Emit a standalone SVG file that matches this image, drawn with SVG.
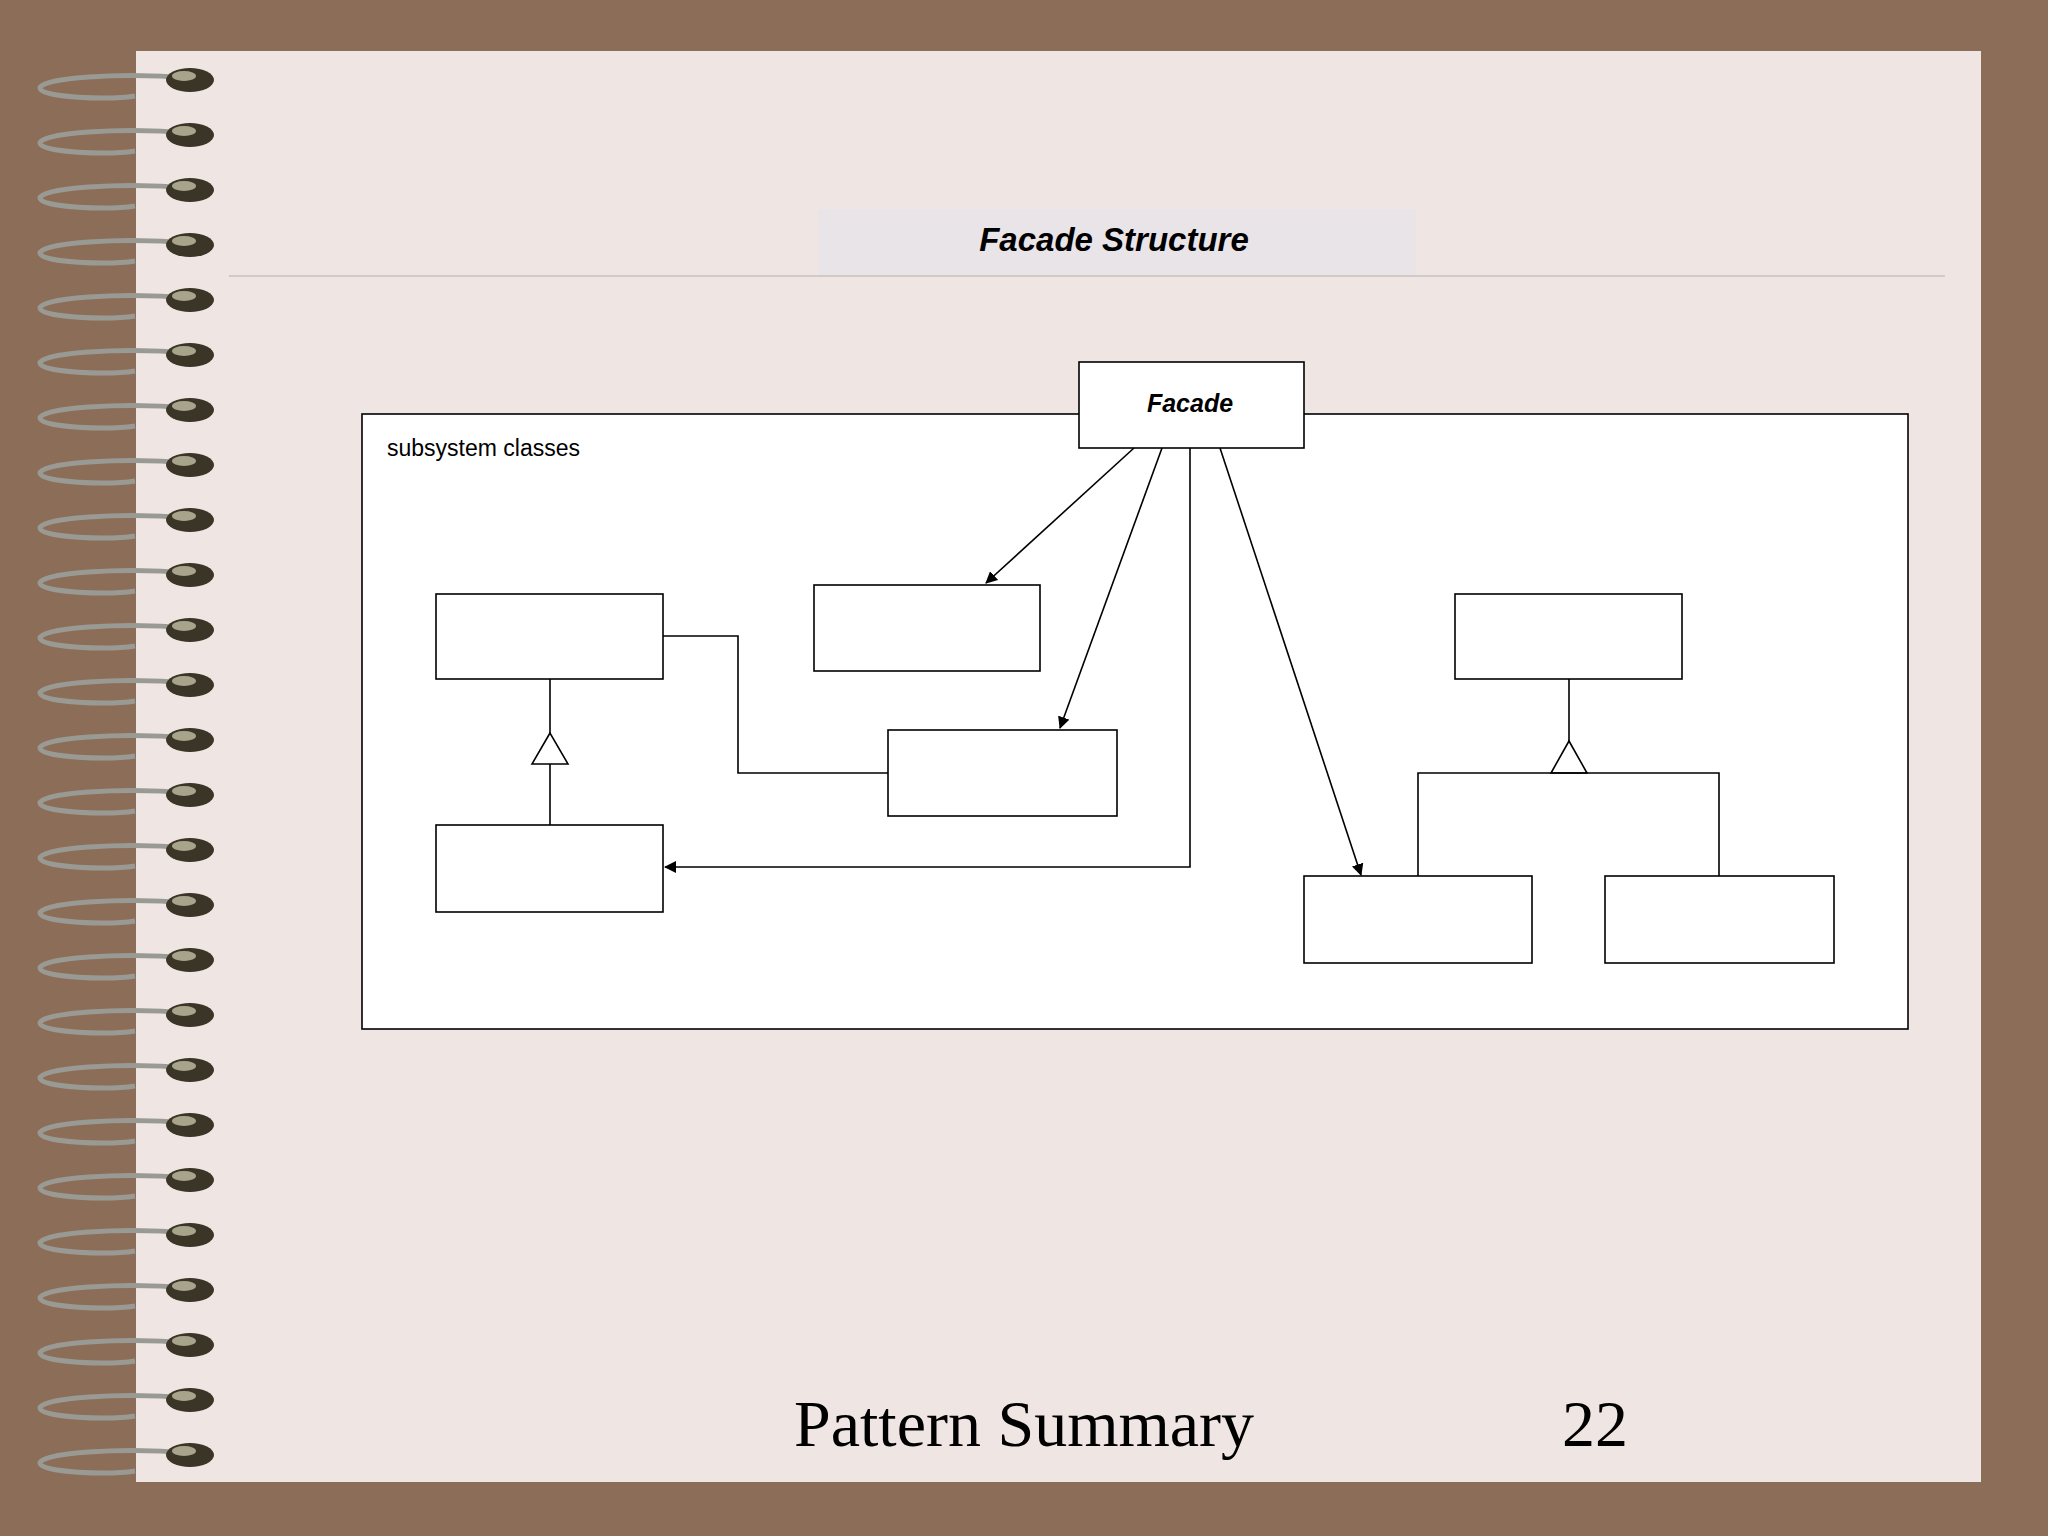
<svg xmlns="http://www.w3.org/2000/svg" xmlns:xlink="http://www.w3.org/1999/xlink" width="2048" height="1536" viewBox="0 0 2048 1536">
<style>
.box{fill:#fff;stroke:#000;stroke-width:1.6}
.ln{fill:none;stroke:#000;stroke-width:1.6}
.sans{font-family:"Liberation Sans",Arial,sans-serif}
</style>
<defs>
<marker id="ah" markerWidth="12" markerHeight="12" refX="11" refY="6" orient="auto" markerUnits="userSpaceOnUse"><path d="M0,0 L12,6 L0,12 Z" fill="#000"/></marker>
<g id="ring">
<path d="M190,0 C120,-6 40,0 40,10 C40,20 110,22 135,18" fill="none" stroke="#9a9a94" stroke-width="5"/>
<ellipse cx="190" cy="2" rx="24" ry="12" fill="#3a3526"/>
<ellipse cx="184" cy="-2" rx="12" ry="5" fill="#a8a48c"/>
</g>
</defs>
<rect width="2048" height="1536" fill="#8c6e58"/>
<rect x="136" y="51" width="1845" height="1431" fill="#efe6e3"/>
<g id="spiral">
<use xlink:href="#ring" y="78"/><use xlink:href="#ring" y="133"/><use xlink:href="#ring" y="188"/><use xlink:href="#ring" y="243"/><use xlink:href="#ring" y="298"/><use xlink:href="#ring" y="353"/><use xlink:href="#ring" y="408"/><use xlink:href="#ring" y="463"/><use xlink:href="#ring" y="518"/><use xlink:href="#ring" y="573"/><use xlink:href="#ring" y="628"/><use xlink:href="#ring" y="683"/><use xlink:href="#ring" y="738"/><use xlink:href="#ring" y="793"/><use xlink:href="#ring" y="848"/><use xlink:href="#ring" y="903"/><use xlink:href="#ring" y="958"/><use xlink:href="#ring" y="1013"/><use xlink:href="#ring" y="1068"/><use xlink:href="#ring" y="1123"/><use xlink:href="#ring" y="1178"/><use xlink:href="#ring" y="1233"/><use xlink:href="#ring" y="1288"/><use xlink:href="#ring" y="1343"/><use xlink:href="#ring" y="1398"/><use xlink:href="#ring" y="1453"/>
</g>
<rect x="818" y="209" width="598" height="67" fill="#e8e4e8"/>
<line x1="229" y1="276" x2="1945" y2="276" stroke="#c8c0bc" stroke-width="1.5"/>
<text x="1114" y="251" text-anchor="middle" class="sans" font-size="33" font-weight="bold" font-style="italic">Facade Structure</text>
<g id="subsystem"><rect x="362" y="414" width="1546" height="615" class="box"/>
<text x="387" y="456" class="sans" font-size="23">subsystem classes</text></g>
<g id="facade"><rect x="1079" y="362" width="225" height="86" class="box"/>
<text x="1190" y="412" text-anchor="middle" class="sans" font-size="25" font-weight="bold" font-style="italic">Facade</text></g>
<g id="a"><rect x="436" y="594" width="227" height="85" class="box"/></g>
<g id="b"><rect x="436" y="825" width="227" height="87" class="box"/></g>
<g id="c"><rect x="814" y="585" width="226" height="86" class="box"/></g>
<g id="d"><rect x="888" y="730" width="229" height="86" class="box"/></g>
<g id="e"><rect x="1455" y="594" width="227" height="85" class="box"/></g>
<g id="f"><rect x="1304" y="876" width="228" height="87" class="box"/></g>
<g id="g"><rect x="1605" y="876" width="229" height="87" class="box"/></g>
<g id="connectors">
<line x1="1134" y1="448" x2="986" y2="583" class="ln" marker-end="url(#ah)"/>
<line x1="1162" y1="448" x2="1060" y2="728" class="ln" marker-end="url(#ah)"/>
<polyline points="1190,448 1190,867 665,867" class="ln" marker-end="url(#ah)"/>
<line x1="1220" y1="448" x2="1361" y2="875" class="ln" marker-end="url(#ah)"/>
<polyline points="663,636 738,636 738,773 888,773" class="ln"/>
<line x1="550" y1="679" x2="550" y2="733" class="ln"/>
<path d="M550,733 L532,764 L568,764 Z" class="box"/>
<line x1="550" y1="764" x2="550" y2="825" class="ln"/>
<line x1="1569" y1="679" x2="1569" y2="741" class="ln"/>
<path d="M1569,741 L1551,773 L1587,773 Z" class="box"/>
<polyline points="1418,876 1418,773 1719,773 1719,876" class="ln"/>
</g>
<text x="794" y="1446" font-family="Liberation Serif,serif" font-size="66">Pattern Summary</text>
<text x="1562" y="1446" font-family="Liberation Serif,serif" font-size="66">22</text>
</svg>
